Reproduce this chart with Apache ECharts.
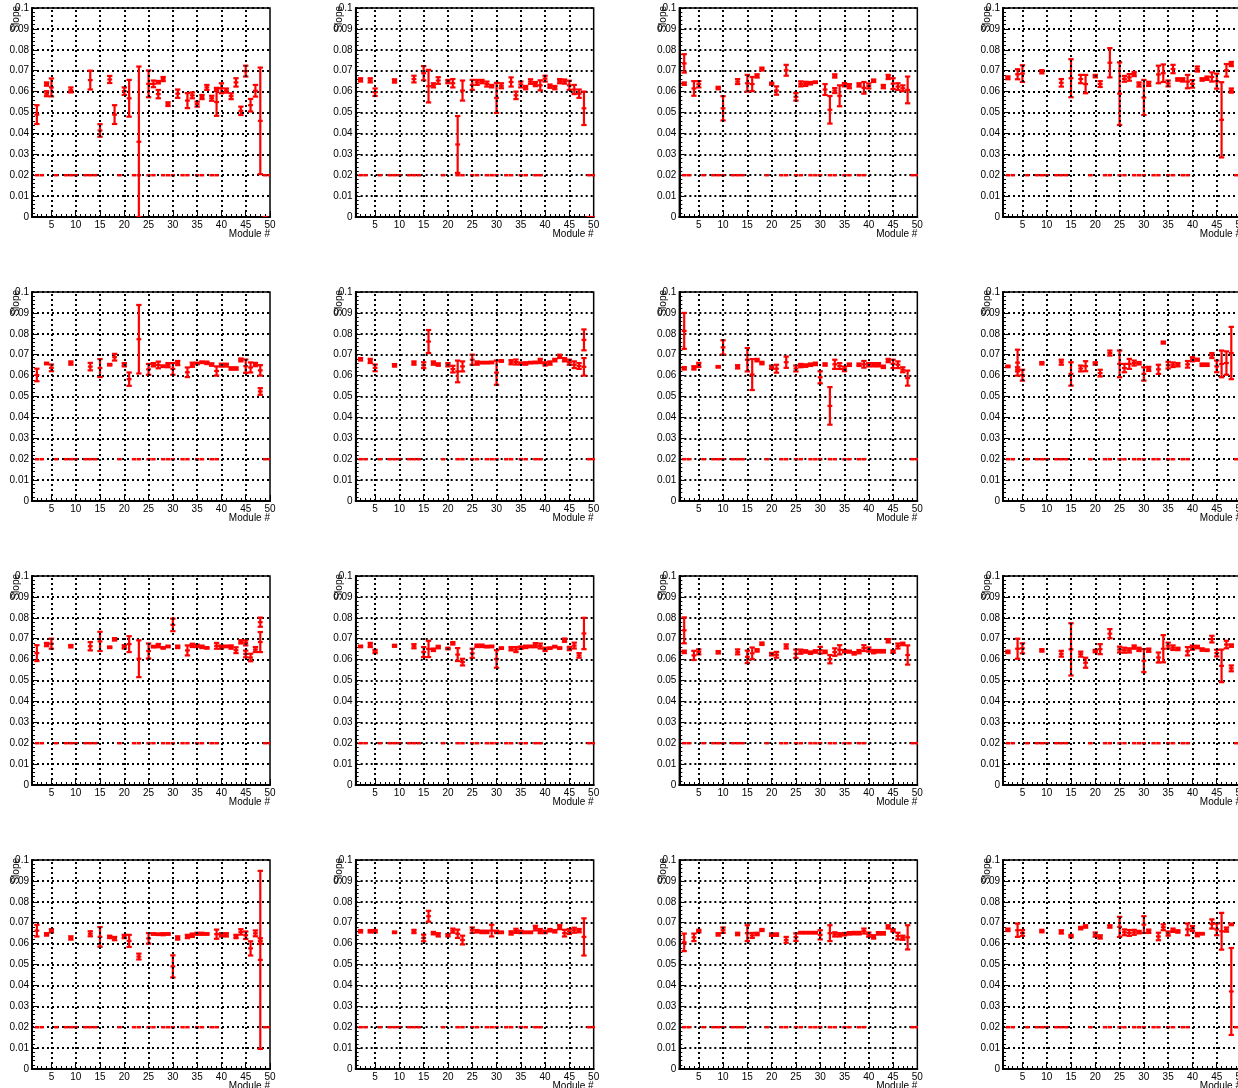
<!DOCTYPE html>
<html><head><meta charset="utf-8">
<script src="https://cdn.jsdelivr.net/npm/echarts@6/dist/echarts.min.js"></script>
<style>html,body{margin:0;padding:0;background:#fff}#c{width:1238px;height:1088px}</style>
</head><body><div id="c"></div>
<script>
// ---- tick labels / reference lines ----
const xMajorTicks = [5,10,15,20,25,30,35,40,45,50];
const xGridLines = [5,10,15,20,25,30,35,40,45];
const refModules = [2,3,6,8,9,10,12,13,14,19,22,23,25,26,28,29,30,32,33,35,36,38,39,49,50];
const refValue = 0.02;

// ---- data: [module, slope, error] ----
const panel1 = [[2,0.0490,0.0045],[4,0.0636,0.0008],[4,0.0590,0.0012],[5,0.0620,0.0043],[9,0.0608,0.0012],[13,0.0655,0.0045],[15,0.0414,0.0030],[17,0.0658,0.0017],[18,0.0490,0.0045],[20,0.0602,0.0018],[21,0.0568,0.0088],[23,0.0360,0.0360],[25,0.0637,0.0064],[26,0.0637,0.0016],[27,0.0645,0.0006],[27,0.0588,0.0020],[28,0.0660,0.0010],[29,0.0540,0.0009],[31,0.0590,0.0020],[33,0.0557,0.0036],[34,0.0582,0.0014],[35,0.0540,0.0012],[36,0.0574,0.0010],[37,0.0620,0.0012],[38,0.0568,0.0012],[39,0.0550,0.0066],[39,0.0610,0.0008],[40,0.0616,0.0024],[41,0.0605,0.0010],[42,0.0578,0.0014],[43,0.0644,0.0020],[44,0.0508,0.0020],[45,0.0698,0.0026],[46,0.0535,0.0030],[47,0.0604,0.0028],[48,0.0460,0.0255],[49,0,0]];
const panel2 = [[2,0.0656,0.0008],[4,0.0654,0.0010],[5,0.0597,0.0018],[9,0.0651,0.0008],[13,0.0660,0.0016],[15,0.0688,0.0034],[16,0.0626,0.0078],[17,0.0630,0.0010],[18,0.0653,0.0016],[20,0.0648,0.0008],[21,0.0640,0.0020],[22,0.0347,0.0136],[23,0.0605,0.0048],[25,0.0632,0.0024],[26,0.0644,0.0012],[27,0.0648,0.0008],[28,0.0636,0.0012],[29,0.0626,0.0006],[30,0.0570,0.0072],[31,0.0628,0.0012],[33,0.0646,0.0022],[34,0.0582,0.0018],[35,0.0634,0.0014],[36,0.0619,0.0008],[37,0.0648,0.0011],[38,0.0636,0.0010],[39,0.0630,0.0024],[40,0.0662,0.0014],[41,0.0626,0.0008],[42,0.0619,0.0008],[43,0.0650,0.0010],[44,0.0648,0.0010],[45,0.0630,0.0022],[46,0.0610,0.0022],[47,0.0590,0.0020],[48,0.0520,0.0080],[49,0,0],[50,0,0]];
const panel3 = [[2,0.0735,0.0044],[2,0.0638,0.0006],[4,0.0615,0.0035],[5,0.0635,0.0015],[9,0.0617,0.0006],[10,0.0520,0.0058],[13,0.0648,0.0012],[15,0.0640,0.0040],[16,0.0636,0.0034],[17,0.0675,0.0008],[18,0.0708,0.0007],[20,0.0638,0.0005],[21,0.0605,0.0020],[23,0.0702,0.0026],[25,0.0575,0.0018],[26,0.0637,0.0012],[27,0.0637,0.0010],[28,0.0640,0.0006],[29,0.0645,0.0004],[31,0.0610,0.0026],[32,0.0513,0.0066],[33,0.0675,0.0008],[33,0.0605,0.0012],[34,0.0580,0.0050],[35,0.0633,0.0008],[36,0.0626,0.0010],[38,0.0632,0.0008],[39,0.0618,0.0028],[40,0.0627,0.0012],[41,0.0652,0.0006],[43,0.0624,0.0008],[44,0.0670,0.0010],[45,0.0638,0.0026],[46,0.0624,0.0016],[47,0.0616,0.0014],[48,0.0608,0.0064]];
const panel4 = [[2,0.0666,0.0007],[4,0.0683,0.0024],[5,0.0686,0.0040],[9,0.0695,0.0008],[13,0.0642,0.0018],[15,0.0664,0.0091],[17,0.0660,0.0020],[18,0.0636,0.0044],[20,0.0674,0.0006],[21,0.0636,0.0014],[23,0.0738,0.0070],[25,0.0590,0.0150],[26,0.0661,0.0014],[27,0.0668,0.0016],[28,0.0684,0.0010],[29,0.0634,0.0010],[30,0.0572,0.0084],[31,0.0637,0.0010],[33,0.0682,0.0042],[34,0.0688,0.0042],[35,0.0639,0.0014],[36,0.0708,0.0020],[37,0.0658,0.0006],[38,0.0656,0.0008],[39,0.0648,0.0032],[40,0.0637,0.0018],[41,0.0708,0.0012],[42,0.0658,0.0006],[43,0.0664,0.0008],[44,0.0670,0.0022],[45,0.0650,0.0036],[46,0.0465,0.0180],[47,0.0702,0.0030],[48,0.0732,0.0010],[48,0.0605,0.0010]];
const panel5 = [[2,0.0603,0.0030],[4,0.0658,0.0004],[5,0.0637,0.0016],[9,0.0660,0.0008],[13,0.0643,0.0018],[15,0.0636,0.0043],[17,0.0652,0.0004],[18,0.0688,0.0016],[20,0.0652,0.0008],[21,0.0583,0.0032],[23,0.0774,0.0164],[25,0.0630,0.0026],[26,0.0652,0.0008],[27,0.0651,0.0016],[28,0.0645,0.0004],[29,0.0650,0.0010],[30,0.0632,0.0028],[31,0.0660,0.0010],[33,0.0616,0.0023],[34,0.0652,0.0010],[35,0.0658,0.0004],[36,0.0664,0.0004],[37,0.0661,0.0006],[38,0.0653,0.0006],[39,0.0622,0.0022],[40,0.0650,0.0007],[41,0.0650,0.0007],[42,0.0634,0.0006],[43,0.0634,0.0006],[44,0.0675,0.0007],[45,0.0645,0.0032],[46,0.0639,0.0024],[47,0.0653,0.0008],[48,0.0625,0.0025],[48,0.0524,0.0016]];
const panel6 = [[2,0.0678,0.0006],[4,0.0670,0.0010],[5,0.0637,0.0016],[9,0.0649,0.0006],[13,0.0660,0.0008],[15,0.0650,0.0014],[16,0.0763,0.0055],[17,0.0660,0.0008],[18,0.0653,0.0006],[20,0.0652,0.0008],[21,0.0631,0.0016],[22,0.0620,0.0052],[23,0.0644,0.0024],[25,0.0676,0.0024],[26,0.0660,0.0008],[27,0.0662,0.0004],[28,0.0662,0.0004],[29,0.0663,0.0004],[30,0.0614,0.0058],[31,0.0670,0.0004],[33,0.0664,0.0010],[34,0.0665,0.0012],[35,0.0658,0.0005],[36,0.0658,0.0006],[37,0.0662,0.0004],[38,0.0663,0.0004],[39,0.0670,0.0010],[40,0.0656,0.0008],[41,0.0660,0.0008],[42,0.0674,0.0006],[43,0.0692,0.0008],[44,0.0676,0.0008],[45,0.0664,0.0012],[46,0.0652,0.0016],[47,0.0646,0.0014],[48,0.0771,0.0050],[48,0.0642,0.0042]];
const panel7 = [[2,0.0814,0.0086],[2,0.0635,0.0006],[4,0.0637,0.0008],[5,0.0651,0.0010],[9,0.0642,0.0004],[10,0.0735,0.0034],[13,0.0642,0.0008],[15,0.0676,0.0056],[16,0.0605,0.0074],[17,0.0674,0.0006],[18,0.0660,0.0006],[20,0.0640,0.0008],[21,0.0633,0.0019],[23,0.0664,0.0027],[25,0.0634,0.0014],[26,0.0648,0.0008],[27,0.0648,0.0006],[28,0.0652,0.0006],[29,0.0656,0.0006],[30,0.0592,0.0029],[31,0.0653,0.0006],[32,0.0455,0.0090],[33,0.0654,0.0022],[34,0.0646,0.0014],[35,0.0632,0.0011],[36,0.0652,0.0006],[38,0.0652,0.0006],[39,0.0654,0.0016],[40,0.0652,0.0008],[41,0.0652,0.0008],[42,0.0652,0.0008],[43,0.0642,0.0006],[44,0.0672,0.0008],[45,0.0656,0.0020],[46,0.0652,0.0016],[47,0.0628,0.0012],[48,0.0588,0.0036]];
const panel8 = [[2,0.0644,0.0004],[4,0.0662,0.0062],[4,0.0630,0.0010],[5,0.0602,0.0026],[9,0.0659,0.0006],[13,0.0664,0.0012],[15,0.0608,0.0056],[17,0.0634,0.0014],[18,0.0645,0.0024],[20,0.0658,0.0006],[21,0.0612,0.0016],[23,0.0708,0.0012],[25,0.0656,0.0064],[26,0.0636,0.0020],[27,0.0656,0.0024],[28,0.0660,0.0012],[29,0.0659,0.0006],[30,0.0608,0.0032],[31,0.0632,0.0010],[33,0.0630,0.0022],[34,0.0758,0.0005],[35,0.0650,0.0016],[36,0.0652,0.0011],[37,0.0652,0.0008],[39,0.0654,0.0016],[40,0.0678,0.0010],[41,0.0676,0.0005],[42,0.0652,0.0006],[43,0.0652,0.0006],[44,0.0696,0.0012],[45,0.0644,0.0028],[46,0.0656,0.0064],[47,0.0660,0.0056],[48,0.0708,0.0125]];
const panel9 = [[2,0.0631,0.0038],[4,0.0672,0.0008],[5,0.0676,0.0024],[9,0.0664,0.0006],[13,0.0664,0.0020],[15,0.0687,0.0046],[17,0.0659,0.0004],[18,0.0697,0.0006],[20,0.0661,0.0008],[21,0.0674,0.0038],[23,0.0604,0.0088],[25,0.0641,0.0036],[26,0.0662,0.0004],[27,0.0667,0.0008],[28,0.0656,0.0004],[29,0.0663,0.0004],[30,0.0766,0.0030],[31,0.0661,0.0006],[33,0.0644,0.0024],[34,0.0668,0.0008],[35,0.0666,0.0006],[36,0.0661,0.0006],[37,0.0656,0.0004],[39,0.0666,0.0014],[40,0.0660,0.0008],[41,0.0663,0.0004],[42,0.0660,0.0008],[43,0.0645,0.0014],[44,0.0685,0.0008],[45,0.0680,0.0012],[45,0.0627,0.0016],[46,0.0610,0.0018],[47,0.0648,0.0012],[48,0.0684,0.0048],[48,0.0779,0.0022]];
const panel10 = [[2,0.0663,0.0004],[4,0.0670,0.0010],[5,0.0639,0.0008],[9,0.0666,0.0005],[13,0.0664,0.0010],[15,0.0636,0.0024],[16,0.0651,0.0039],[17,0.0647,0.0006],[18,0.0660,0.0006],[20,0.0653,0.0004],[21,0.0678,0.0006],[22,0.0624,0.0031],[23,0.0588,0.0016],[25,0.0630,0.0022],[26,0.0666,0.0006],[27,0.0666,0.0006],[28,0.0662,0.0004],[29,0.0663,0.0004],[30,0.0603,0.0042],[31,0.0655,0.0004],[33,0.0652,0.0008],[34,0.0648,0.0012],[35,0.0657,0.0006],[36,0.0661,0.0006],[37,0.0663,0.0004],[38,0.0669,0.0010],[39,0.0665,0.0012],[40,0.0649,0.0008],[41,0.0655,0.0004],[42,0.0662,0.0004],[43,0.0655,0.0004],[44,0.0693,0.0008],[45,0.0653,0.0008],[46,0.0667,0.0014],[47,0.0620,0.0011],[48,0.0725,0.0075]];
const panel11 = [[2,0.0740,0.0062],[2,0.0637,0.0006],[4,0.0620,0.0022],[5,0.0637,0.0012],[9,0.0635,0.0006],[13,0.0637,0.0012],[15,0.0613,0.0030],[16,0.0630,0.0028],[17,0.0644,0.0006],[18,0.0676,0.0006],[20,0.0626,0.0006],[21,0.0623,0.0014],[23,0.0663,0.0010],[25,0.0628,0.0020],[26,0.0638,0.0010],[27,0.0639,0.0006],[28,0.0633,0.0006],[29,0.0639,0.0006],[30,0.0645,0.0016],[31,0.0637,0.0006],[32,0.0602,0.0020],[33,0.0636,0.0018],[34,0.0647,0.0022],[35,0.0640,0.0006],[36,0.0638,0.0005],[37,0.0630,0.0006],[38,0.0638,0.0008],[39,0.0655,0.0014],[40,0.0648,0.0010],[41,0.0638,0.0008],[42,0.0640,0.0006],[43,0.0640,0.0006],[44,0.0690,0.0008],[45,0.0638,0.0006],[46,0.0665,0.0012],[47,0.0675,0.0006],[48,0.0622,0.0046]];
const panel12 = [[2,0.0637,0.0006],[4,0.0652,0.0048],[5,0.0654,0.0024],[9,0.0644,0.0006],[13,0.0628,0.0014],[15,0.0649,0.0125],[17,0.0626,0.0012],[18,0.0585,0.0024],[20,0.0641,0.0006],[21,0.0650,0.0024],[23,0.0724,0.0022],[25,0.0648,0.0014],[26,0.0645,0.0012],[27,0.0644,0.0010],[28,0.0660,0.0008],[29,0.0649,0.0008],[30,0.0595,0.0055],[31,0.0645,0.0008],[33,0.0610,0.0024],[34,0.0652,0.0065],[35,0.0667,0.0014],[36,0.0657,0.0011],[37,0.0651,0.0006],[39,0.0640,0.0020],[40,0.0657,0.0010],[41,0.0660,0.0006],[42,0.0648,0.0006],[43,0.0645,0.0004],[44,0.0698,0.0016],[45,0.0631,0.0016],[46,0.0570,0.0078],[47,0.0672,0.0018],[48,0.0558,0.0014],[48,0.0667,0.0006]];
const panel13 = [[2,0.0662,0.0028],[4,0.0644,0.0006],[5,0.0661,0.0008],[9,0.0627,0.0008],[13,0.0647,0.0012],[15,0.0632,0.0047],[17,0.0632,0.0006],[18,0.0624,0.0008],[20,0.0634,0.0008],[21,0.0613,0.0029],[23,0.0538,0.0014],[25,0.0625,0.0025],[26,0.0646,0.0004],[27,0.0645,0.0004],[28,0.0645,0.0005],[29,0.0646,0.0004],[30,0.0491,0.0053],[31,0.0627,0.0008],[33,0.0634,0.0008],[34,0.0640,0.0008],[35,0.0647,0.0005],[36,0.0647,0.0005],[37,0.0646,0.0004],[39,0.0645,0.0022],[40,0.0642,0.0008],[41,0.0642,0.0008],[43,0.0634,0.0008],[44,0.0656,0.0013],[45,0.0640,0.0018],[46,0.0577,0.0034],[47,0.0649,0.0014],[48,0.0522,0.0426],[48,0.0613,0.0013]];
const panel14 = [[2,0.0659,0.0006],[4,0.0659,0.0006],[5,0.0659,0.0006],[9,0.0654,0.0004],[13,0.0658,0.0008],[15,0.0627,0.0016],[16,0.0731,0.0026],[17,0.0650,0.0006],[18,0.0642,0.0008],[20,0.0640,0.0006],[21,0.0662,0.0010],[22,0.0647,0.0020],[23,0.0617,0.0021],[25,0.0664,0.0013],[26,0.0659,0.0006],[27,0.0656,0.0006],[28,0.0656,0.0006],[29,0.0662,0.0028],[30,0.0656,0.0006],[31,0.0654,0.0004],[33,0.0651,0.0008],[34,0.0661,0.0010],[35,0.0656,0.0006],[36,0.0654,0.0004],[37,0.0654,0.0004],[38,0.0674,0.0011],[39,0.0660,0.0010],[40,0.0656,0.0006],[41,0.0664,0.0006],[42,0.0659,0.0006],[43,0.0679,0.0010],[44,0.0650,0.0016],[45,0.0658,0.0012],[46,0.0664,0.0012],[47,0.0662,0.0008],[48,0.0632,0.0089]];
const panel15 = [[2,0.0606,0.0042],[4,0.0630,0.0018],[5,0.0660,0.0006],[9,0.0644,0.0006],[10,0.0664,0.0013],[13,0.0646,0.0006],[15,0.0650,0.0038],[16,0.0639,0.0012],[17,0.0646,0.0006],[18,0.0665,0.0005],[20,0.0643,0.0006],[21,0.0643,0.0006],[23,0.0618,0.0014],[25,0.0631,0.0018],[26,0.0652,0.0004],[27,0.0652,0.0004],[28,0.0652,0.0004],[29,0.0652,0.0004],[30,0.0642,0.0022],[32,0.0650,0.0038],[33,0.0644,0.0010],[34,0.0642,0.0008],[35,0.0645,0.0006],[36,0.0649,0.0006],[37,0.0650,0.0006],[38,0.0650,0.0006],[39,0.0660,0.0012],[40,0.0643,0.0010],[41,0.0632,0.0008],[42,0.0649,0.0006],[43,0.0649,0.0006],[44,0.0680,0.0008],[45,0.0663,0.0006],[46,0.0636,0.0016],[47,0.0628,0.0010],[48,0.0630,0.0058]];
const panel16 = [[2,0.0666,0.0006],[4,0.0664,0.0032],[5,0.0651,0.0014],[9,0.0660,0.0006],[13,0.0656,0.0008],[15,0.0636,0.0006],[17,0.0674,0.0006],[18,0.0682,0.0006],[20,0.0643,0.0010],[21,0.0632,0.0008],[23,0.0682,0.0006],[25,0.0680,0.0048],[26,0.0654,0.0014],[27,0.0651,0.0014],[28,0.0654,0.0012],[29,0.0655,0.0006],[30,0.0691,0.0040],[31,0.0659,0.0008],[33,0.0634,0.0018],[34,0.0678,0.0014],[35,0.0648,0.0010],[36,0.0664,0.0008],[37,0.0658,0.0006],[39,0.0668,0.0028],[40,0.0672,0.0012],[41,0.0643,0.0008],[42,0.0647,0.0004],[44,0.0694,0.0022],[45,0.0668,0.0028],[46,0.0659,0.0088],[47,0.0667,0.0010],[48,0.0692,0.0004],[48,0.0371,0.0208]];

const panels = [panel1,panel2,panel3,panel4,panel5,panel6,panel7,panel8,panel9,panel10,panel11,panel12,panel13,panel14,panel15,panel16];

const FONT = '"Liberation Sans", Arial, Helvetica, sans-serif';
const RED = '#ff0000';
const DOTS = [2, 3];

function errItem(params, api) {
  const m = api.value(0), v = api.value(1), e = api.value(2);
  const unit = api.size([1, 0])[0];
  const hb = unit * 0.5, cap = unit * 0.55;
  const p = api.coord([m, v]);
  const style = { stroke: RED, lineWidth: 2.2 };
  const ch = [{ type: 'line', shape: { x1: p[0] - hb, y1: p[1], x2: p[0] + hb, y2: p[1] }, style: style }];
  if (e > 0) {
    const hi = Math.min(0.1, v + e), lo = Math.max(0, v - e);
    const t = api.coord([m, hi]), b = api.coord([m, lo]);
    ch.push({ type: 'line', shape: { x1: p[0], y1: t[1], x2: p[0], y2: b[1] }, style: style });
    if (v + e <= 0.1) ch.push({ type: 'line', shape: { x1: p[0] - cap, y1: t[1], x2: p[0] + cap, y2: t[1] }, style: style });
    if (v - e >= 0) ch.push({ type: 'line', shape: { x1: p[0] - cap, y1: b[1], x2: p[0] + cap, y2: b[1] }, style: style });
  }
  return { type: 'group', children: ch };
}
function refItem(params, api) {
  const m = api.value(0), v = api.value(1);
  const unit = api.size([1, 0])[0];
  const p = api.coord([m, v]);
  return { type: 'line', shape: { x1: p[0] - unit * 0.45, y1: p[1], x2: p[0] + unit * 0.45, y2: p[1] }, style: { stroke: RED, lineWidth: 2.5 } };
}

const grids = [], xAxes = [], yAxes = [], series = [], graphics = [];
panels.forEach(function (data, i) {
  const col = i % 4, row = Math.floor(i / 4);
  const left = 32 + col * 323.67, top = 8 + row * 284, w = 238, h = 209;
  grids.push({ left: left, top: top, width: w, height: h, show: true, borderColor: '#000', borderWidth: 1.5,
    backgroundColor: '#fff', containLabel: false, outerBoundsMode: 'none' });
  xAxes.push({ gridIndex: i, type: 'value', min: 1, max: 50, interval: 1, position: 'bottom',
    axisLine: { show: true, onZero: false, lineStyle: { color: '#000', width: 2 } },
    axisTick: { show: true, inside: true, length: 3, lineStyle: { color: '#000', width: 1 } },
    axisLabel: { show: true, margin: 3, fontSize: 10, fontFamily: FONT, color: '#000',
      formatter: function (v) { return (Math.round(v) % 5 === 0) ? String(Math.round(v)) : ''; } },
    splitLine: { show: false } });
  xAxes.push({ gridIndex: i, type: 'value', min: 1, max: 50, position: 'bottom',
    axisLine: { show: false },
    axisTick: { show: true, inside: true, length: 6, customValues: xMajorTicks, lineStyle: { color: '#000', width: 1 } },
    axisLabel: { show: false }, splitLine: { show: false } });
  yAxes.push({ gridIndex: i, type: 'value', min: 0, max: 0.1, interval: 0.01,
    axisLine: { show: true, onZero: false, lineStyle: { color: '#000', width: 2 } },
    axisTick: { show: true, inside: true, length: 5, lineStyle: { color: '#000' } },
    minorTick: { show: true, splitNumber: 5, length: 3, lineStyle: { color: '#000' } },
    axisLabel: { margin: 3, fontSize: 10, fontFamily: FONT, color: '#000',
      formatter: function (v) { return String(+v.toFixed(2)); } },
    splitLine: { show: true, lineStyle: { color: '#000', type: DOTS, width: 2 } } });
  series.push({ type: 'custom', xAxisIndex: 2 * i, yAxisIndex: i, clip: true, silent: true, z: 2,
    data: refModules.map(function (m) { return [m, refValue]; }),
    encode: { x: 0, y: 1 }, renderItem: refItem,
    markLine: { silent: true, symbol: ['none', 'none'], label: { show: false },
      lineStyle: { color: '#000', type: DOTS, width: 2 },
      data: xGridLines.map(function (x) { return { xAxis: x }; }) } });
  series.push({ type: 'custom', xAxisIndex: 2 * i, yAxisIndex: i, clip: true, silent: true, z: 4,
    data: data, encode: { x: 0, y: 1 }, renderItem: errItem });
  graphics.push({ type: 'text', x: left + w, y: top + h + 17,
    style: { text: 'Module #', font: '10px ' + FONT, fill: '#000', align: 'right', verticalAlign: 'middle', textAlign: 'right', textVerticalAlign: 'middle' } });
  graphics.push({ type: 'text', x: left - 16, y: top - 2, rotation: Math.PI / 2,
    style: { text: 'Slope', font: '10px ' + FONT, fill: '#000', align: 'right', verticalAlign: 'middle', textAlign: 'right', textVerticalAlign: 'middle' } });
});

const chart = echarts.init(document.getElementById('c'), null, { renderer: 'canvas' });
chart.setOption({
  animation: false,
  backgroundColor: '#fff',
  grid: grids, xAxis: xAxes, yAxis: yAxes, series: series,
  graphic: { elements: graphics }
});
</script>
</body></html>
